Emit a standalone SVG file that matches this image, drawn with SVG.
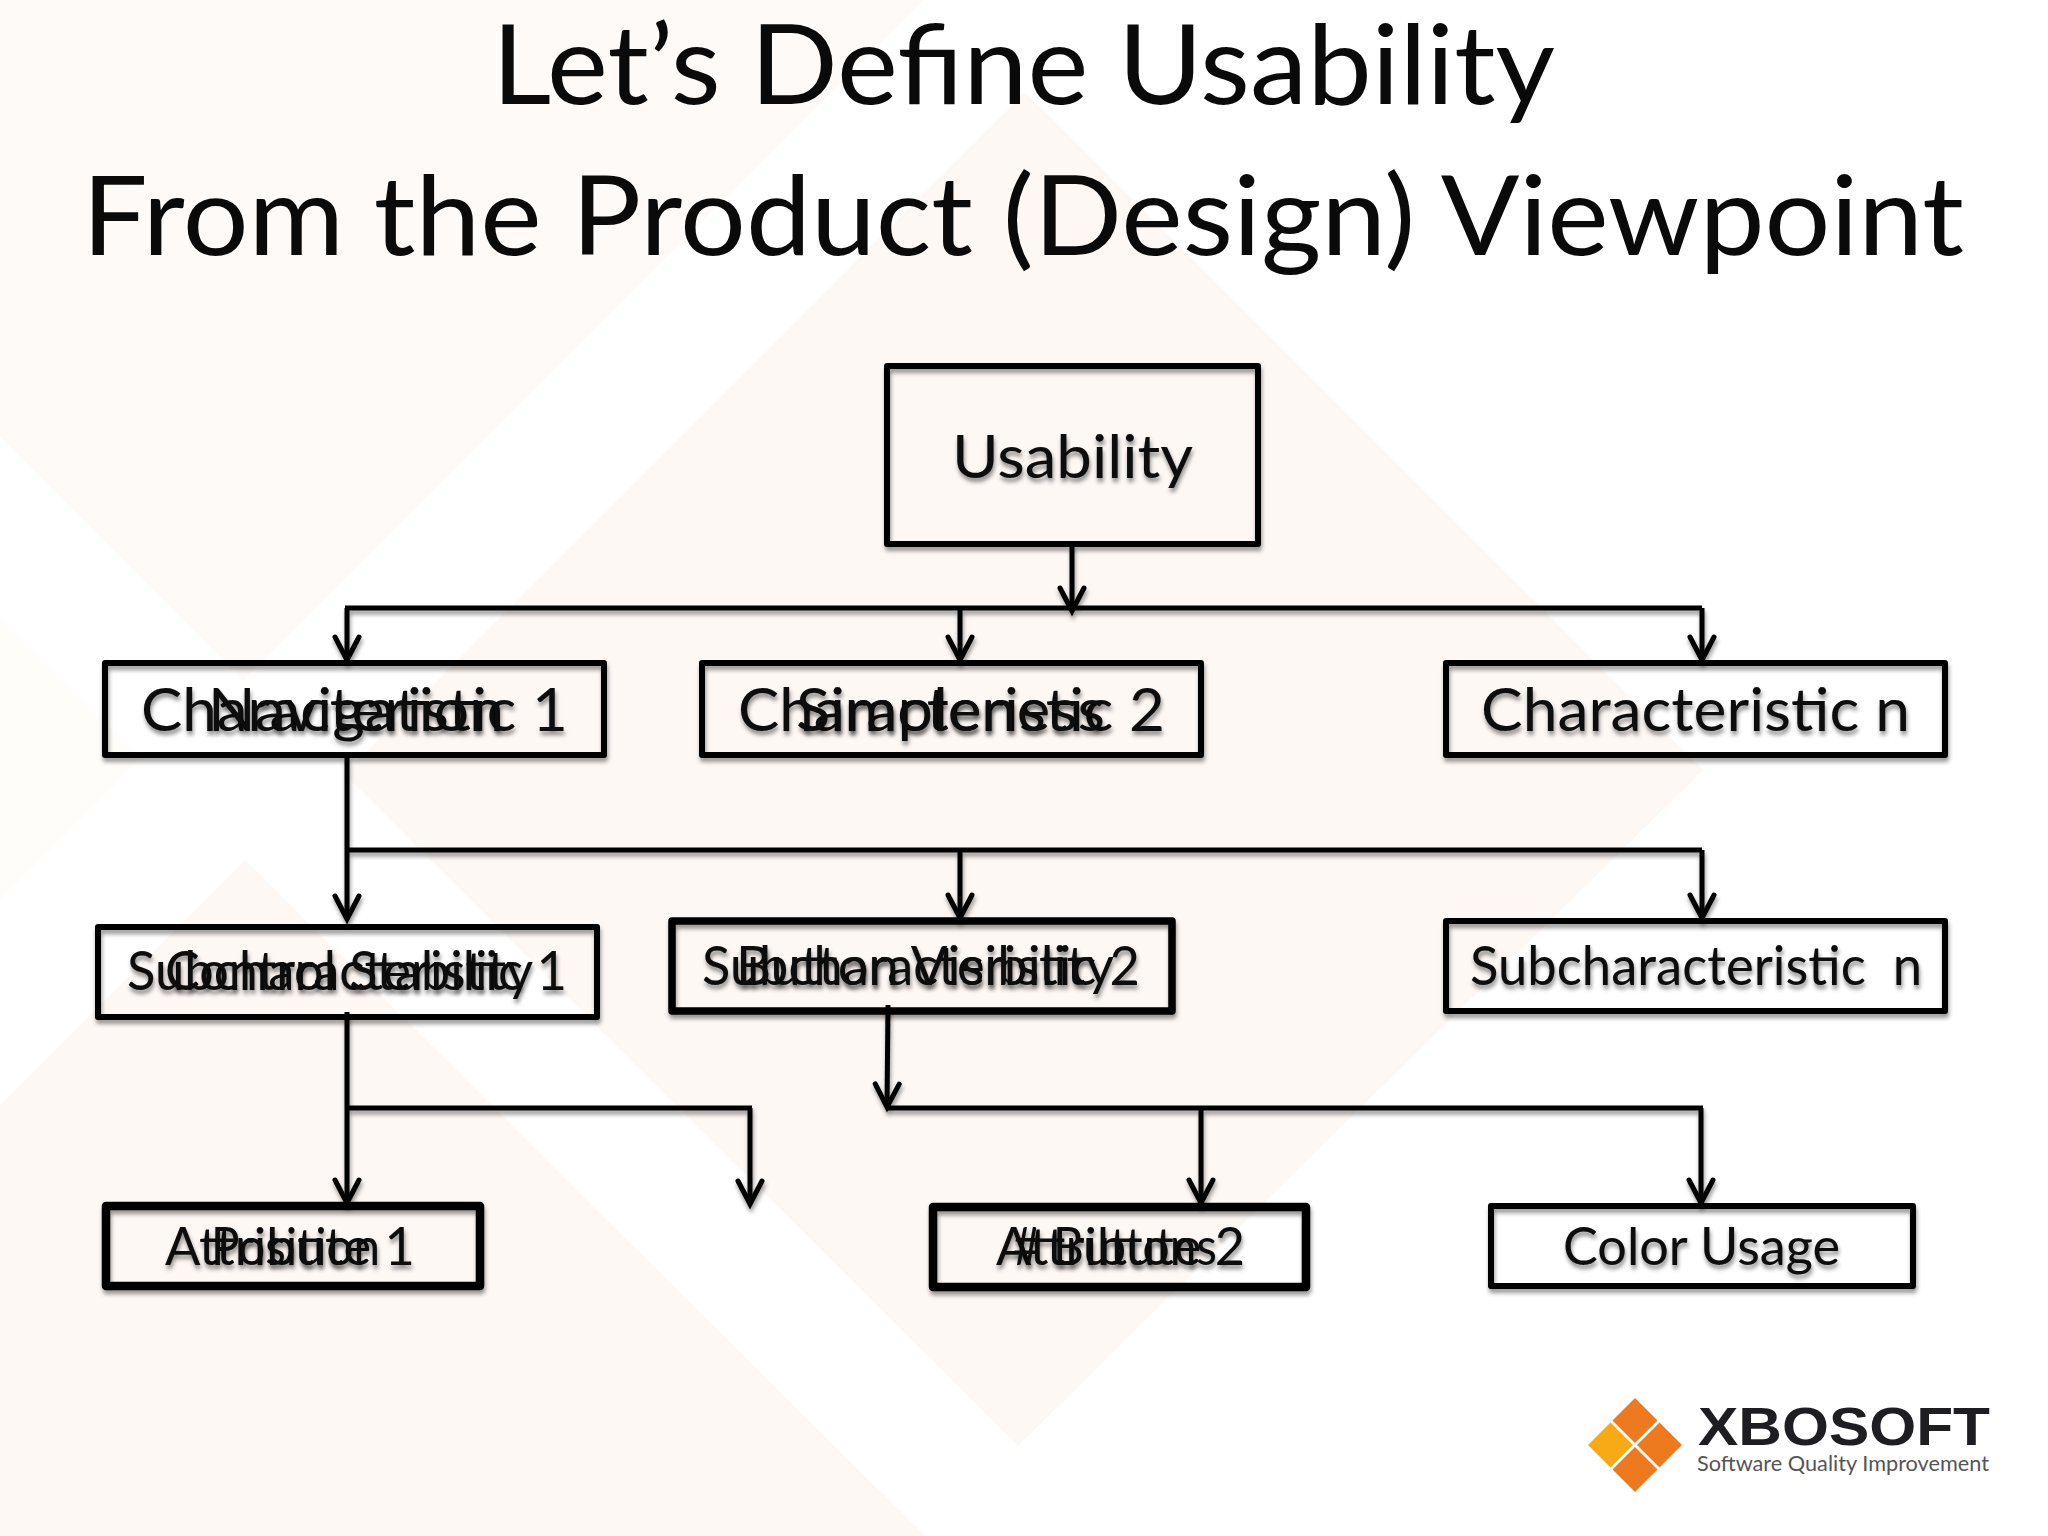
<svg xmlns="http://www.w3.org/2000/svg" width="2048" height="1536" viewBox="0 0 2048 1536">
<defs>
<filter id="sh" x="-5%" y="-5%" width="110%" height="115%" filterUnits="objectBoundingBox"><feDropShadow dx="1" dy="4" stdDeviation="2.2" flood-color="#000" flood-opacity="0.45"/></filter>
<filter id="shl" filterUnits="userSpaceOnUse" x="0" y="0" width="2048" height="1536"><feDropShadow dx="1" dy="4" stdDeviation="2.2" flood-color="#000" flood-opacity="0.4"/></filter>
<marker id="arr" markerUnits="userSpaceOnUse" markerWidth="34" markerHeight="34" refX="27" refY="17" viewBox="0 0 34 34" orient="auto"><path d="M4 5 L27 17 L4 29" fill="none" stroke="#000" stroke-width="5" stroke-linecap="round" stroke-linejoin="miter"/></marker>
</defs>
<style>
.bg{fill:#fef8f5}
.bgv{fill:#fefaf7}
.box{fill:none;stroke:#000;stroke-width:6;stroke-linejoin:round}
.box2{stroke-width:8.5}
.box3{stroke-width:7.5}
.c{fill:none;stroke:#000;stroke-width:5}
.a{marker-end:url(#arr)}
text{font-family:Lato,"Open Sans","Liberation Sans",sans-serif;fill:#0a0a0a}
.t{font-size:110px}
.l{font-size:60px;filter:url(#sh)}
.m{font-size:54px;filter:url(#sh)}
.s{font-size:52px;filter:url(#sh)}
</style>
<rect width="2048" height="1536" fill="#fff"/>
<g id="background">
<polygon class="bg" points="1025,92 1703,770 1018,1446 344,774"/>
<polygon class="bgv" points="0,0 923,0 243,680 0,437"/>
<polygon points="0,617 141,758 0,900" fill="#fffdf9"/>
<polygon class="bg" points="245,860 925,1536 0,1536 0,1105"/>
</g>
<g id="title">
<text class="t" x="492" y="104" textLength="1063" lengthAdjust="spacingAndGlyphs">Let’s Define Usability</text>
<text class="t" x="82" y="255" textLength="1882" lengthAdjust="spacingAndGlyphs">From the Product (Design) Viewpoint</text>
</g>
<g id="connectors" filter="url(#shl)">
<path class="c a" d="M1072 545V611"/>
<path class="c" d="M345 608H1702"/>
<path class="c a" d="M347 608V660"/>
<path class="c a" d="M960 608V660"/>
<path class="c a" d="M1702 608V660"/>
<path class="c a" d="M347 756V919"/>
<path class="c" d="M347 850H1702"/>
<path class="c a" d="M960 850V918"/>
<path class="c a" d="M1702 850V918"/>
<path class="c a" d="M347 1012V1203"/>
<path class="c" d="M347 1108H752"/>
<path class="c a" d="M750 1108V1204"/>
<path class="c a" d="M888 1005L887 1107"/>
<path class="c" d="M887 1108H1703"/>
<path class="c a" d="M1201 1108V1203"/>
<path class="c a" d="M1701 1108V1203"/>
</g>
<g id="usability"><rect class="box" filter="url(#shl)" x="887" y="366" width="371" height="178"/><text class="l" x="952" y="478" textLength="241" lengthAdjust="spacingAndGlyphs">Usability</text></g>
<g id="char1"><rect class="box" filter="url(#shl)" x="105" y="663" width="499" height="92"/><text class="l" x="141" y="731" textLength="427" lengthAdjust="spacingAndGlyphs">Characteristic 1</text><text class="l" x="208" y="731" textLength="296" lengthAdjust="spacingAndGlyphs">Navigation</text></g>
<g id="char2"><rect class="box" filter="url(#shl)" x="702" y="663" width="499" height="92"/><text class="l" x="738" y="731" textLength="427" lengthAdjust="spacingAndGlyphs">Characteristic 2</text><text class="l" x="796" y="731" textLength="309" lengthAdjust="spacingAndGlyphs">Simpleness</text></g>
<g id="charn"><rect class="box" filter="url(#shl)" x="1446" y="663" width="499" height="92"/><text class="l" x="1481" y="731" textLength="429" lengthAdjust="spacingAndGlyphs">Characteristic n</text></g>
<g id="sub1"><rect class="box" filter="url(#shl)" x="98" y="927" width="499" height="90"/><text class="m" x="127" y="990" textLength="440" lengthAdjust="spacingAndGlyphs">Subcharacteristic 1</text><text class="m" x="165" y="990" textLength="368" lengthAdjust="spacingAndGlyphs">Control Stability</text></g>
<g id="sub2"><rect class="box box3" filter="url(#shl)" x="672" y="921" width="500" height="90"/><text class="m" x="702" y="985" textLength="438" lengthAdjust="spacingAndGlyphs">Subcharacteristic 2</text><text class="m" x="736" y="985" textLength="378" lengthAdjust="spacingAndGlyphs">Button Visibility</text></g>
<g id="subn"><rect class="box" filter="url(#shl)" x="1446" y="921" width="499" height="90"/><text class="m" x="1470" y="985" textLength="452" lengthAdjust="spacingAndGlyphs" xml:space="preserve">Subcharacteristic  n</text></g>
<g id="attr1"><rect class="box box2" filter="url(#shl)" x="106" y="1206" width="374" height="80"/><text class="s" x="165" y="1265" textLength="250" lengthAdjust="spacingAndGlyphs">Attribute 1</text><text class="s" x="211" y="1265" textLength="169" lengthAdjust="spacingAndGlyphs">Position</text></g>
<g id="attr2"><rect class="box box2" filter="url(#shl)" x="933" y="1207" width="373" height="80"/><text class="s" x="996" y="1265" textLength="249" lengthAdjust="spacingAndGlyphs">Attribute 2</text><text class="s" x="1013" y="1265" textLength="204" lengthAdjust="spacingAndGlyphs"># Buttons</text></g>
<g id="color"><rect class="box" filter="url(#shl)" x="1491" y="1206" width="422" height="80"/><text class="s" x="1563" y="1265" textLength="277" lengthAdjust="spacingAndGlyphs">Color Usage</text></g>
<g id="logo">
<g transform="translate(1635,1445)">
<polygon points="0,-22.5 22.5,0 0,22.5 -22.5,0" fill="#ee7a1f" transform="translate(0,-24.5)"/>
<polygon points="0,-22.5 22.5,0 0,22.5 -22.5,0" fill="#ee7a1f" transform="translate(24.5,0)"/>
<polygon points="0,-22.5 22.5,0 0,22.5 -22.5,0" fill="#f6ab14" transform="translate(-24.5,0)"/>
<polygon points="0,-22.5 22.5,0 0,22.5 -22.5,0" fill="#ee7a1f" transform="translate(0,24.5)"/>
</g>
<text x="1698" y="1445" font-size="53" textLength="292" lengthAdjust="spacingAndGlyphs" style="font-family:'Liberation Sans',sans-serif;font-weight:bold;fill:#1e1e22">XBOSOFT</text>
<text x="1697" y="1471" font-size="21" textLength="292" lengthAdjust="spacingAndGlyphs" style="fill:#555">Software Quality Improvement</text>
</g>
</svg>
